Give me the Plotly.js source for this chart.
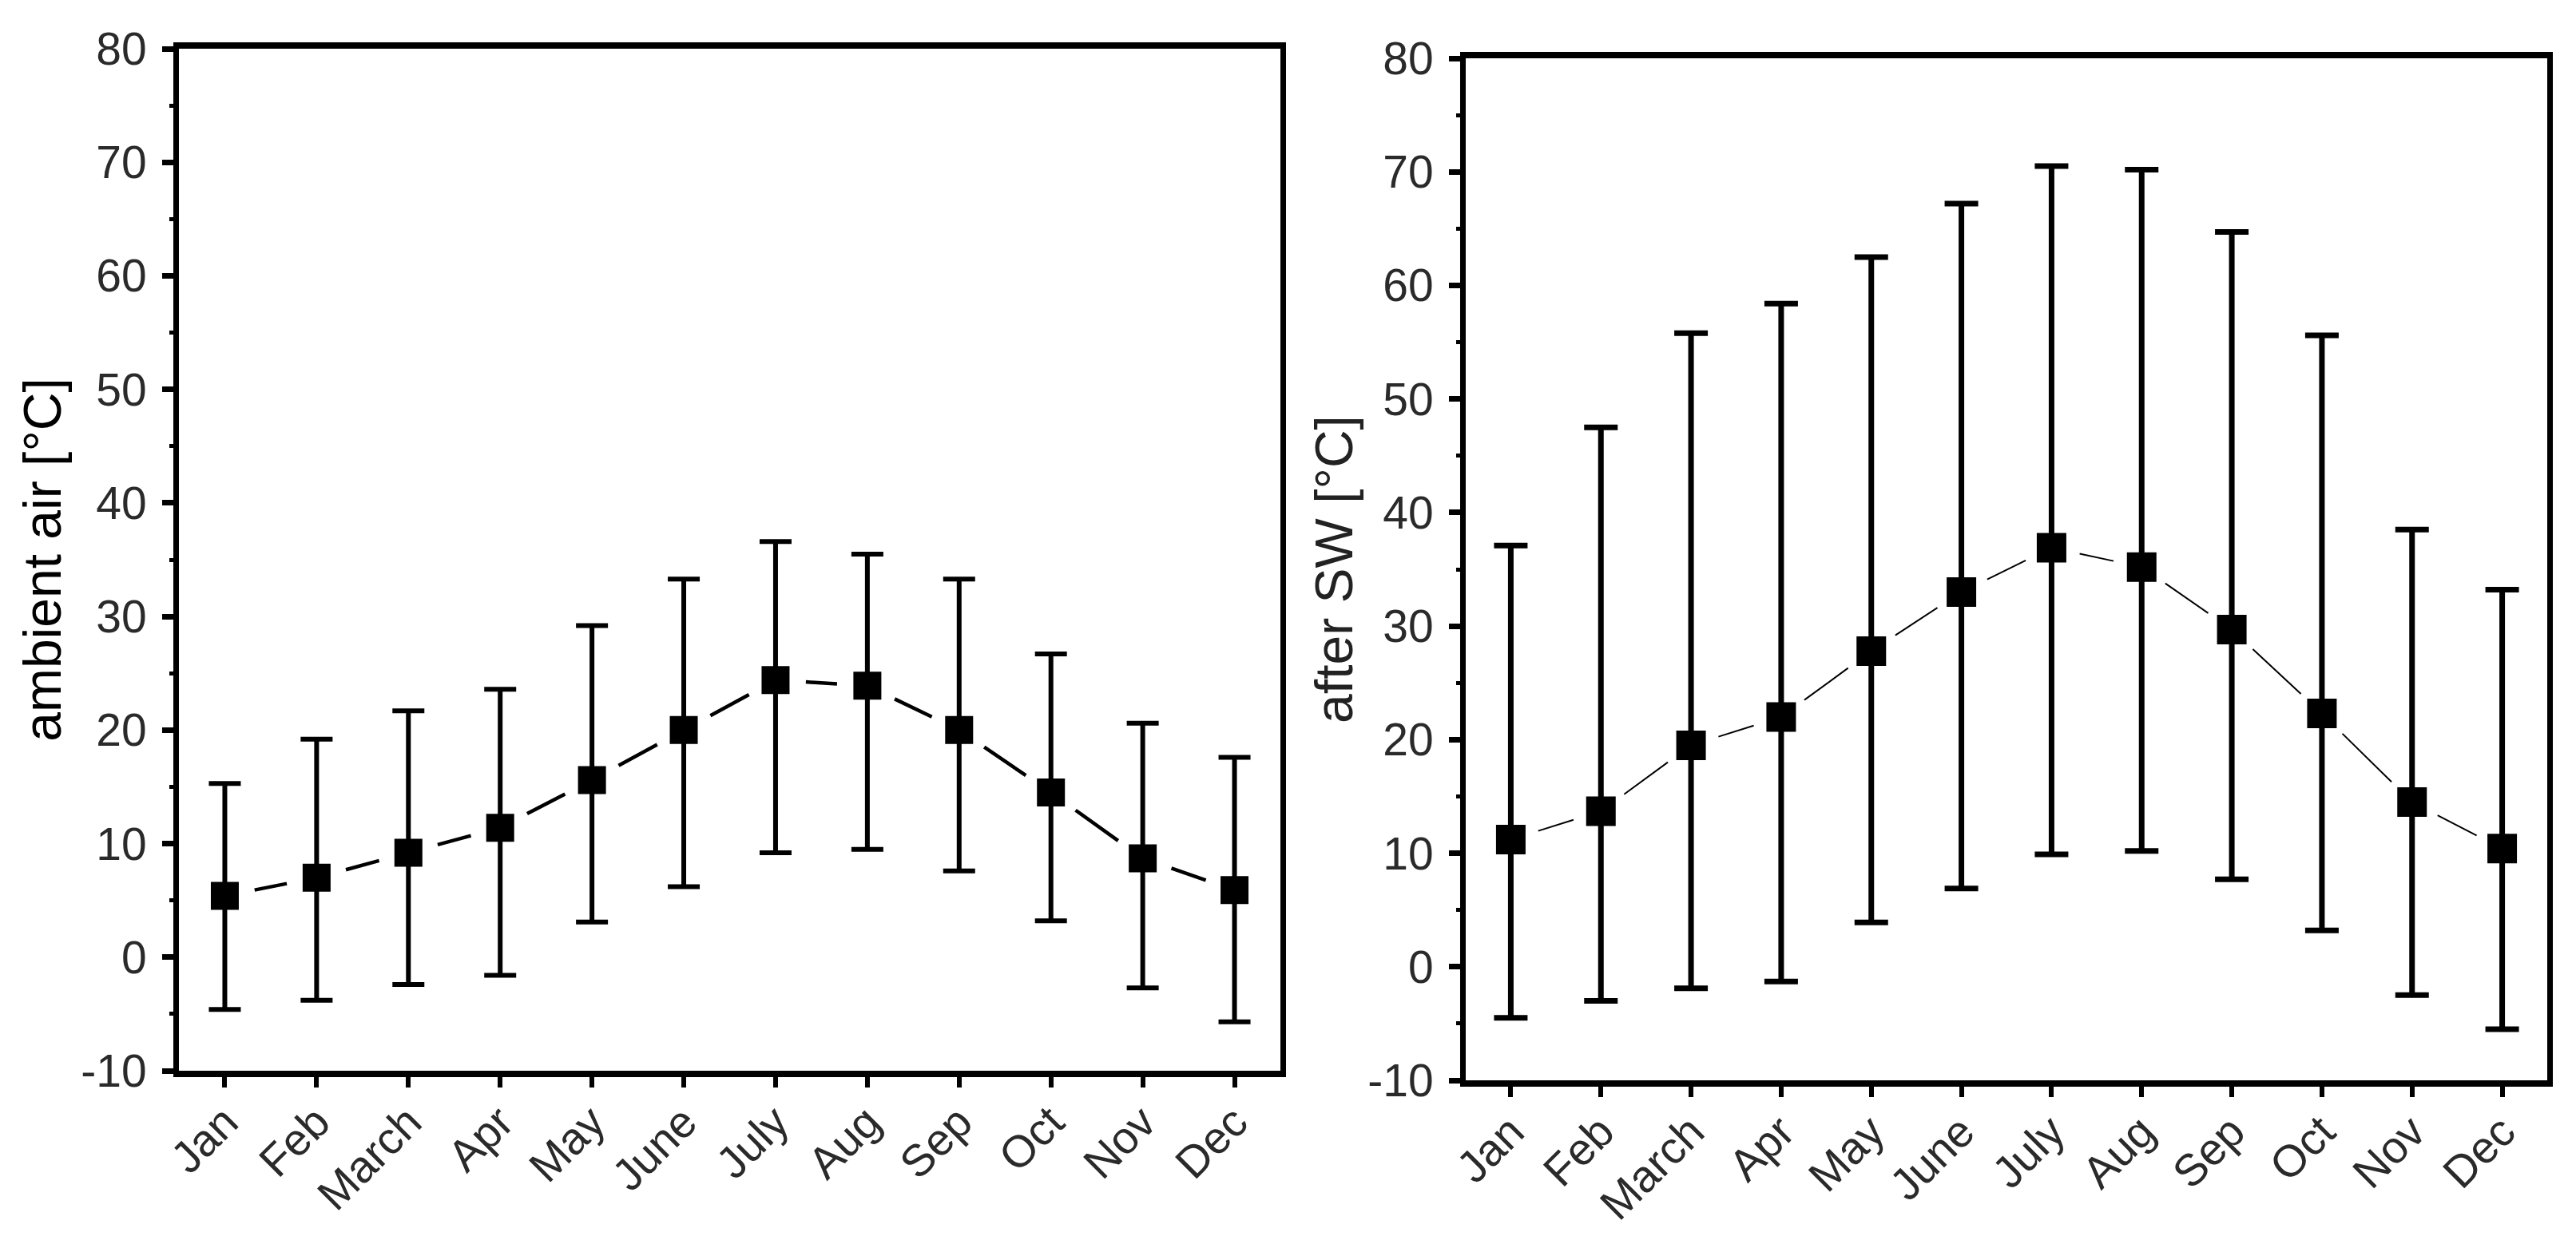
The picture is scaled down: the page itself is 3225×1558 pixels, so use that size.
<!DOCTYPE html>
<html><head><meta charset="utf-8">
<script src="https://cdn.plot.ly/plotly-3.0.1.min.js"></script>
<style>html,body{margin:0;padding:0;background:#fff}</style>
</head><body><div id="chart" style="width:3225px;height:1558px"></div>
<script>
const months = ['Jan','Feb','March','Apr','May','June','July','Aug','Sep','Oct','Nov','Dec'];
const ambientMean  = [5.4, 7.0, 9.2, 11.4, 15.6, 20.0, 24.4, 23.9, 20.0, 14.5, 8.7, 5.9];
const ambientUpper = [15.3, 19.2, 21.7, 23.6, 29.2, 33.3, 36.6, 35.5, 33.3, 26.7, 20.6, 17.6];
const ambientLower = [-4.6, -3.8, -2.4, -1.6, 3.1, 6.2, 9.2, 9.5, 7.6, 3.2, -2.7, -5.7];
const swMean  = [11.2, 13.7, 19.5, 22.0, 27.8, 33.0, 36.9, 35.2, 29.7, 22.3, 14.5, 10.4];
const swUpper = [37.1, 47.5, 55.8, 58.4, 62.5, 67.2, 70.5, 70.2, 64.7, 55.6, 38.5, 33.2];
const swLower = [-4.5, -3.0, -1.9, -1.3, 3.9, 6.9, 9.9, 10.2, 7.7, 3.2, -2.5, -5.5];
const yTickVals = [-10, 0, 10, 20, 30, 40, 50, 60, 70, 80];
const yTickText = ['-10', '0', '10', '20', '30', '40', '50', '60', '70', '80'];
const leftTitle = 'ambient air [°C]';
const rightTitle = 'after SW [°C]';

const W = 3225, H = 1558;
const FONT = '"Liberation Sans", Arial, sans-serif';
const xDom1 = [224 / W, 1603 / W];
const xDom2 = [1835 / W, 3189 / W];
const yDom1 = [(H - 1341) / H, (H - 61) / H];
const yDom2 = [(H - 1353) / H, (H - 73) / H];
const xRange = [-0.5, 11.5];
const yRange = [-10, 80];

function pxScale(xd, yd) {
  return {
    px: (xd[1] - xd[0]) * W / (xRange[1] - xRange[0]),
    py: (yd[1] - yd[0]) * H / (yRange[1] - yRange[0])
  };
}

function segmentTraces(mean, xa, ya, sc, gap, width) {
  const out = [];
  for (let i = 0; i < mean.length - 1; i++) {
    const dy = (mean[i + 1] - mean[i]) * sc.py;
    const L = Math.hypot(sc.px, dy);
    const d = Math.max(L - 2 * gap, 0);
    out.push({
      x: [months[i], months[i + 1]], y: [mean[i], mean[i + 1]],
      xaxis: xa, yaxis: ya, type: 'scatter', mode: 'lines',
      line: {color: '#000', width: width, dash: '0px,' + gap + 'px,' + d.toFixed(1) + 'px,3000px'},
      hoverinfo: 'skip', showlegend: false
    });
  }
  return out;
}

function errArr(upper, mean) { return upper.map((u, i) => u - mean[i]); }
function errMinus(lower, mean) { return mean.map((m, i) => m - lower[i]); }

const sc1 = pxScale(xDom1, yDom1);
const sc2 = pxScale(xDom2, yDom2);

const traces = [
  ...segmentTraces(ambientMean, 'x', 'y', sc1, 38, 4.5),
  ...segmentTraces(swMean, 'x2', 'y2', sc2, 36, 2),
  {
    x: months, y: ambientMean, xaxis: 'x', yaxis: 'y', type: 'scatter', mode: 'markers',
    marker: {symbol: 'square', size: 35, color: '#000'},
    error_y: {type: 'data', symmetric: false, array: errArr(ambientUpper, ambientMean),
      arrayminus: errMinus(ambientLower, ambientMean), color: '#000', thickness: 6, width: 20},
    showlegend: false
  },
  {
    x: months, y: swMean, xaxis: 'x2', yaxis: 'y2', type: 'scatter', mode: 'markers',
    marker: {symbol: 'square', size: 37, color: '#000'},
    error_y: {type: 'data', symmetric: false, array: errArr(swUpper, swMean),
      arrayminus: errMinus(swLower, swMean), color: '#000', thickness: 7, width: 21},
    showlegend: false
  }
];

function xAxis(dom, anchor) {
  return {
    domain: dom, anchor: anchor, type: 'category', categoryarray: months, categoryorder: 'array',
    range: xRange, showline: true, linecolor: '#000', linewidth: 8, mirror: true,
    ticks: 'outside', ticklen: 13, tickwidth: 6, tickcolor: '#000',
    tickangle: -45, tickfont: {family: FONT, size: 56, color: '#2a2a2a'}, ticklabelstandoff: -12,
    showgrid: false, zeroline: false, fixedrange: true
  };
}
function yAxis(dom, anchor, title, tcolor, standoff) {
  return {
    domain: dom, anchor: anchor, range: yRange, tickmode: 'array', tickvals: yTickVals, ticktext: yTickText,
    showline: true, linecolor: '#000', linewidth: 7, mirror: true,
    ticks: 'outside', ticklen: 14, tickwidth: 7, tickcolor: '#000',
    minor: {dtick: 5, tick0: 0, ticks: 'outside', ticklen: 5, tickwidth: 5, tickcolor: '#000'},
    tickfont: {family: FONT, size: 57, color: '#2a2a2a'}, ticklabelstandoff: 8,
    showgrid: false, zeroline: false, fixedrange: true,
    title: {text: title, font: {family: FONT, size: 66, color: tcolor}, standoff: standoff}
  };
}

const layout = {
  width: W, height: H, margin: {l: 0, r: 0, t: 0, b: 0},
  paper_bgcolor: '#fff', plot_bgcolor: '#fff', showlegend: false,
  xaxis: xAxis(xDom1, 'y'),
  yaxis: yAxis(yDom1, 'x', leftTitle, '#000', 6),
  xaxis2: xAxis(xDom2, 'y2'),
  yaxis2: yAxis(yDom2, 'x2', rightTitle, '#222', 0)
};

Plotly.newPlot('chart', traces, layout, {staticPlot: true, displayModeBar: false});
</script>
</body></html>
